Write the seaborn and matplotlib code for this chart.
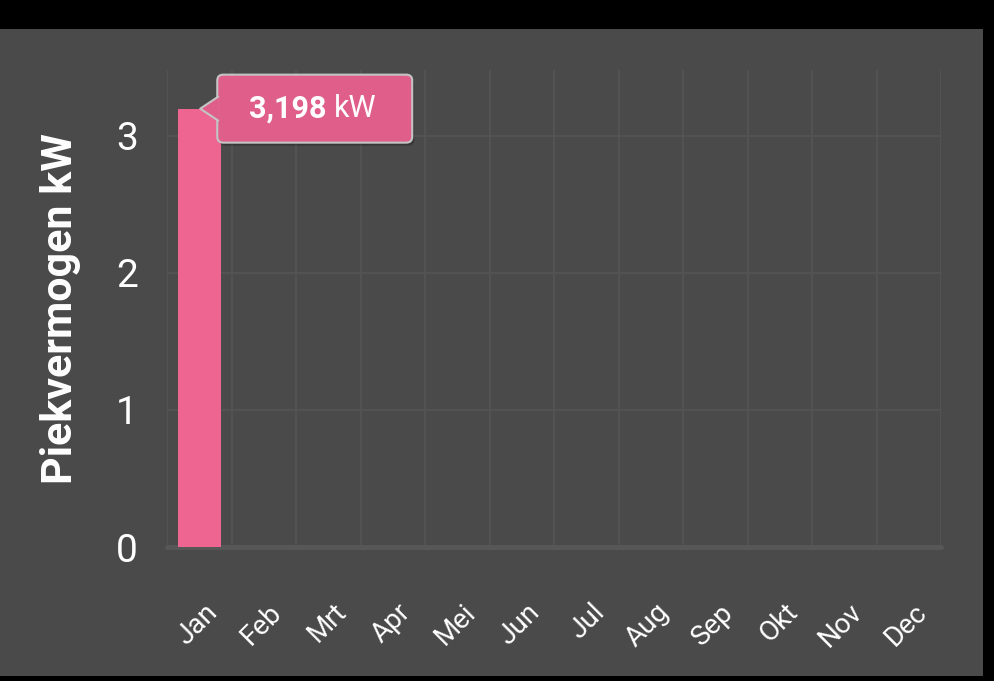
import matplotlib
matplotlib.use("Agg")
import matplotlib.pyplot as plt
import seaborn as sns
import pandas as pd
from matplotlib.patches import FancyBboxPatch, Polygon, Rectangle
from matplotlib.transforms import Affine2D, ScaledTranslation
from matplotlib.lines import Line2D

# data
months = ["Jan", "Feb", "Mrt", "Apr", "Mei", "Jun", "Jul", "Aug", "Sep", "Okt", "Nov", "Dec"]
peak_kw = [3.198, 0, 0, 0, 0, 0, 0, 0, 0, 0, 0, 0]
y_ticks = [0, 1, 2, 3]
y_label = "Piekvermogen kW"
tip_value = "3,198"
tip_unit = "kW"

BG = "#4a4a4a"
GRID = "#545454"
BAR = "#ee6592"
TIP = "#df5f8a"

sns.set_theme(style="dark")
plt.rcParams['font.family'] = ['Roboto', 'DejaVu Sans']

W, H = 994, 681
fig = plt.figure(figsize=(W / 100, H / 100), dpi=100, facecolor="black")
# grey card behind the chart (zorder below the axes)
fig.patches.append(Rectangle((0, 5 / H), 983 / W, 647 / H, transform=fig.transFigure,
                             facecolor=BG, edgecolor="none", zorder=-5))

ax = fig.add_axes([167 / W, 134 / H, 774 / W, 477 / H])
ax.set_facecolor(BG)

df = pd.DataFrame({"maand": months, "kw": peak_kw})
sns.barplot(data=df, x="maand", y="kw", order=months, color=BAR, saturation=1,
            width=0.67, linewidth=0, ax=ax, zorder=3)

ax.set_ylim(0, 3.48)
ax.set_xlim(-0.5, len(months) - 0.5)
ax.set_yticks(y_ticks)
ax.set_yticklabels([str(t) for t in y_ticks])
ax.set_xticks(range(len(months)))
ax.set_xticklabels(months, rotation=45, ha="right", va="center", rotation_mode="anchor")
ax.set_xticks([i - 0.5 for i in range(len(months) + 1)], minor=True)

ax.tick_params(axis="y", length=0, pad=21, labelsize=28, labelcolor="white")
ax.tick_params(axis="x", which="both", length=0, pad=44, labelsize=20, labelcolor="white")
# nudge the rotated month labels a bit to the right, like the original
shift = ScaledTranslation(14 / 100, 0, fig.dpi_scale_trans)
for lbl in ax.get_xticklabels():
    lbl.set_transform(lbl.get_transform() + shift)

ax.grid(False)
ax.grid(axis="y", which="major", color=GRID, lw=1.2, zorder=1)
ax.grid(axis="x", which="minor", color=GRID, lw=1.2, zorder=1)
ax.axhline(0, color="#575757", lw=3.5, zorder=2, clip_on=False)
for s in ax.spines.values():
    s.set_visible(False)

ax.set_xlabel("")
ax.set_ylabel(y_label, fontsize=31, fontweight="bold", color="white", labelpad=25)

# tooltip next to the Jan bar, in pixel units from the bar top
anchor = Affine2D() + ScaledTranslation(0, peak_kw[0], ax.transData)
shadow = FancyBboxPatch((20, -37), 195, 68, boxstyle="round,pad=0,rounding_size=6",
                        transform=anchor, fc="black", ec="none", alpha=0.25,
                        clip_on=False, zorder=9)
box = FancyBboxPatch((18, -34), 195, 68, boxstyle="round,pad=0,rounding_size=6",
                     transform=anchor, fc=TIP, ec="#c4c4c4", lw=1.5,
                     clip_on=False, zorder=10)
tri = Polygon([(1, 0), (19.5, 12), (19.5, -12)], closed=True, transform=anchor,
              fc=TIP, ec="none", clip_on=False, zorder=11)
edge = Line2D([19, 1, 19], [12, 0, -12], transform=anchor, color="#c4c4c4", lw=1.5,
              clip_on=False, zorder=11)
ax.add_patch(shadow)
ax.add_patch(box)
ax.add_patch(tri)
ax.add_line(edge)

t1 = ax.text(50, 0, tip_value, transform=anchor, ha="left", va="center",
             fontsize=22, fontweight="bold", color="white", zorder=12)
ax.annotate(tip_unit, xy=(1, 0.5), xycoords=t1, xytext=(5, 0), textcoords="offset points",
            ha="left", va="center", fontsize=22, color="white", zorder=12)

fig.savefig("out.png", dpi=100, facecolor="black")
